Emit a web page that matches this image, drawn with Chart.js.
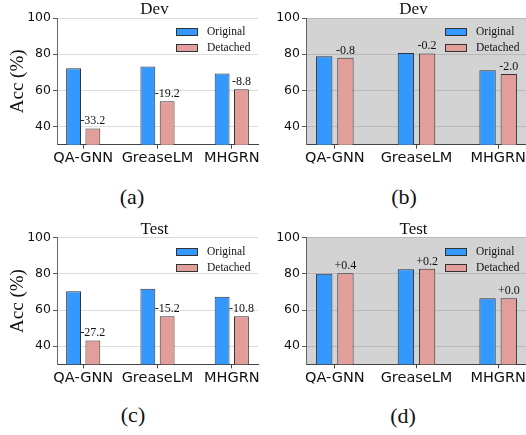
<!DOCTYPE html>
<html>
<head>
<meta charset="utf-8">
<script src="https://cdn.jsdelivr.net/npm/chart.js@4.4.0/dist/chart.umd.min.js"></script>
<style>
html, body { margin: 0; padding: 0; background: #fff; overflow: hidden; width: 526px; height: 435px; }
canvas { position: absolute; }
.cap { position: absolute; font-family: "Liberation Serif", serif; font-size: 22px; color: #111; line-height: 22px; transform: translate(-50%, -50%); }
</style>
</head>
<body>
<canvas id="chartA" width="263" height="175" style="left:0;top:0"></canvas>
<canvas id="chartB" width="270" height="175" style="left:263px;top:0"></canvas>
<canvas id="chartC" width="263" height="175" style="left:0;top:220px"></canvas>
<canvas id="chartD" width="270" height="175" style="left:263px;top:220px"></canvas>
<div class="cap" style="left:132px;top:197px">(a)</div>
<div class="cap" style="left:404px;top:197px">(b)</div>
<div class="cap" style="left:133px;top:415px">(c)</div>
<div class="cap" style="left:403px;top:416px">(d)</div>
<script>
// data
var categories = ['QA-GNN', 'GreaseLM', 'MHGRN'];
var seriesNames = ['Original', 'Detached'];
var yTicks = [40, 60, 80, 100];

var devOriginalA = [72.2, 73.2, 69.4];
var devDetachedA = [39.0, 54.0, 60.6];
var devDiffA = ['-33.2', '-19.2', '-8.8'];

var devOriginalB = [78.9, 80.6, 71.1];
var devDetachedB = [78.1, 80.4, 69.1];
var devDiffB = ['-0.8', '-0.2', '-2.0'];

var testOriginalC = [70.4, 71.8, 67.4];
var testDetachedC = [43.2, 56.6, 56.6];
var testDiffC = ['-27.2', '-15.2', '-10.8'];

var testOriginalD = [80.0, 82.6, 66.5];
var testDetachedD = [80.4, 82.8, 66.5];
var testDiffD = ['+0.4', '+0.2', '+0.0'];

var blue = '#3399ff';
var pink = '#e29e9b';

// background, title, diff labels and the legend inside the plot
var panelText = {
    id: 'panelText',
    beforeDraw: function(chart, args, o) {
        if (!o.shaded) return;
        var a = chart.chartArea, ctx = chart.ctx;
        ctx.save();
        ctx.fillStyle = '#d3d3d3';
        ctx.fillRect(a.left, a.top, a.right - a.left, a.bottom - a.top);
        ctx.restore();
    },
    afterDatasetsDraw: function(chart, args, o) {
        var a = chart.chartArea, ctx = chart.ctx;
        ctx.save();
        ctx.fillStyle = '#111';
        ctx.textAlign = 'center';
        ctx.textBaseline = 'alphabetic';
        ctx.font = '17px "Liberation Serif"';
        ctx.fillText(o.title, (a.left + a.right) / 2 - 3, a.top - 4);

        ctx.font = '12px "Liberation Serif"';
        chart.getDatasetMeta(1).data.forEach(function(bar, i) {
            ctx.fillText(o.diffs[i], bar.x, bar.y - 4);
        });

        ctx.font = '11.5px "Liberation Serif"';
        ctx.textAlign = 'left';
        ctx.textBaseline = 'middle';
        chart.data.datasets.forEach(function(ds, i) {
            var y = Math.round(a.top + 14 + i * 16);
            var bx = Math.round(a.right - 82);
            ctx.fillStyle = ds.backgroundColor;
            ctx.fillRect(bx, y - 4, 22, 8);
            ctx.strokeStyle = '#333';
            ctx.lineWidth = 1;
            ctx.strokeRect(bx + 0.5, y - 3.5, 21, 7);
            ctx.fillStyle = '#111';
            ctx.fillText(ds.label, a.right - 51, y);
        });
        ctx.restore();
    }
};

function makePanel(id, title, orig, det, diffs, o) {
    var ctx = document.getElementById(id).getContext('2d');
    return new Chart(ctx, {
        type: 'bar',
        data: {
            datasets: [{
                label: seriesNames[0],
                data: orig.map(function(v, i) { return {x: i, y: v}; }),
                backgroundColor: blue,
                borderColor: '#333',
                borderWidth: 1
            },
            {
                label: seriesNames[1],
                data: det.map(function(v, i) { return {x: i, y: v}; }),
                backgroundColor: pink,
                borderColor: '#333',
                borderWidth: 1
            }]
        },
        options: {
            responsive: false,
            animation: false,
            categoryPercentage: 0.52,
            barPercentage: 0.77,
            layout: { padding: { top: o.top, right: o.right, left: 0, bottom: 0 } },
            plugins: {
                legend: { display: false },
                tooltip: { enabled: false },
                panelText: { title: title, diffs: diffs, shaded: o.shaded }
            },
            scales: {
                x: {
                    type: 'linear',
                    min: -0.353,
                    max: 2.353,
                    offset: false,
                    afterBuildTicks: function(scale) {
                        scale.ticks = categories.map(function(c, i) { return {value: i}; });
                    },
                    afterFit: function(scale) { scale.height = o.xHeight; },
                    ticks: {
                        autoSkip: false,
                        maxRotation: 0,
                        padding: 1,
                        color: '#111',
                        font: { family: 'DejaVu Sans', size: 14.5 },
                        callback: function(v) { return categories[v]; }
                    },
                    grid: { offset: false, drawOnChartArea: false, drawTicks: true, tickLength: 4, tickColor: '#444' },
                    border: { color: '#444', width: 1 }
                },
                y: {
                    min: 30,
                    max: 100,
                    afterBuildTicks: function(scale) {
                        scale.ticks = yTicks.map(function(v) { return {value: v}; });
                    },
                    afterFit: function(scale) { scale.width = o.yWidth; },
                    ticks: {
                        padding: 2,
                        color: '#111',
                        font: { family: 'DejaVu Sans', size: 12.5 }
                    },
                    grid: { color: o.shaded ? '#b9b9b9' : '#dcdcdc', tickLength: 4, tickColor: '#555' },
                    border: { color: '#666', width: 1 },
                    title: {
                        display: !!o.yTitle,
                        text: o.yTitle || '',
                        color: '#111',
                        font: { family: 'Liberation Serif', size: 19 },
                        padding: { top: 7, bottom: 0 }
                    }
                }
            }
        },
        plugins: [panelText]
    });
}

makePanel('chartA', 'Dev', devOriginalA, devDetachedA, devDiffA,
    { top: 18, right: 5, xHeight: 30.3, yWidth: 57, yTitle: 'Acc (%)', shaded: false });
makePanel('chartB', 'Dev', devOriginalB, devDetachedB, devDiffB,
    { top: 18, right: 6, xHeight: 30.3, yWidth: 43, shaded: true });
makePanel('chartC', 'Test', testOriginalC, testDetachedC, testDiffC,
    { top: 17.7, right: 5, xHeight: 30.7, yWidth: 57, yTitle: 'Acc (%)', shaded: false });
makePanel('chartD', 'Test', testOriginalD, testDetachedD, testDiffD,
    { top: 17.7, right: 6, xHeight: 30.7, yWidth: 43, shaded: true });
</script>
</body>
</html>
